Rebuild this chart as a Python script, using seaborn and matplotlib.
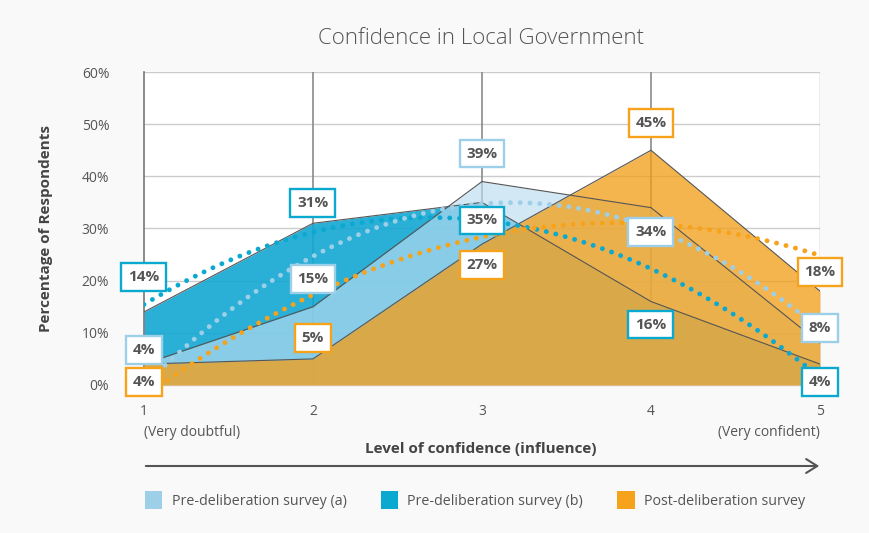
import matplotlib
matplotlib.use("Agg")
import matplotlib.pyplot as plt
from matplotlib.patches import Patch
from matplotlib.transforms import blended_transform_factory
import pandas as pd
import seaborn as sns

# values
levels = [1, 2, 3, 4, 5]
pre_a = [4, 15, 39, 34, 8]
pre_b = [14, 31, 35, 16, 4]
post = [4, 5, 27, 45, 18]
series_names = ["Pre-deliberation survey (a)", "Pre-deliberation survey (b)", "Post-deliberation survey"]
yticks = [0, 10, 20, 30, 40, 50, 60]

# label box offsets in pixels (up is positive)
off_a = [14, 28, 28, -24, 15]
off_b = [35, 20, -18, -23, -18]
off_post = [-18, 21, -21, 27, 19]

c_a = "#9dcfe8"
c_b = "#0ba8d0"
c_post = "#f7a21b"

sns.set_theme(style="white")
plt.rcParams["font.family"] = ["Open Sans", "DejaVu Sans"]

df = pd.DataFrame({"level": levels, "a": pre_a, "b": pre_b, "post": post})

fig = plt.figure(figsize=(8.7, 5.33), dpi=100, facecolor="#f9f9f9")
ax = fig.add_axes([0.1655, 0.2777, 0.777, 0.5872])
ax.set_facecolor("white")

# grid
for y in yticks:
    ax.axhline(y, color="#cccccc", lw=1, zorder=0)
for x in levels[1:-1]:
    ax.axvline(x, color="#8a8a8a", lw=1.2, zorder=0)

# filled areas, back to front
ax.fill_between(df["level"], df["b"], color="#13a7d3", alpha=0.9, lw=0, zorder=1)
ax.fill_between(df["level"], df["a"], color="#bbddf1", alpha=0.65, lw=0, zorder=2)
ax.fill_between(df["level"], df["post"], color="#f29f19", alpha=0.77, lw=0, zorder=3)
for col in ["b", "a", "post"]:
    sns.lineplot(data=df, x="level", y=col, color="#555555", lw=0.8, ax=ax, zorder=4)

# quadratic trend lines, dotted
for col, c in [("b", c_b), ("a", c_a), ("post", c_post)]:
    sns.regplot(data=df, x="level", y=col, order=2, ci=None, scatter=False, ax=ax,
                line_kws=dict(color=c, lw=3.5, linestyle=(0, (0.01, 2.0)),
                              dash_capstyle="round", zorder=5))

# value labels
for vals, offs, c in [(pre_b, off_b, c_b), (pre_a, off_a, c_a), (post, off_post, c_post)]:
    for x, v, dy in zip(levels, vals, offs):
        ax.annotate(f"{v}%", (x, v), xytext=(0, dy), textcoords="offset pixels",
                    ha="center", va="center", fontsize=11, fontweight="bold", color="#555555",
                    bbox=dict(boxstyle="square,pad=0.45", fc="white", ec=c, lw=1.7), zorder=10)

ax.set_xlim(1, 5)
ax.set_ylim(0, 60)
ax.set_yticks(yticks)
ax.set_yticklabels([f"{y}%" for y in yticks], fontsize=10, color="#555555")
ax.set_xticks(levels)
ax.set_xticklabels([str(x) for x in levels], fontsize=10, color="#555555")
ax.tick_params(axis="x", length=0, pad=14)
ax.tick_params(axis="y", length=0, pad=25)
for s in ["top", "right"]:
    ax.spines[s].set_visible(False)
ax.spines["left"].set_color("#777777")
ax.spines["left"].set_linewidth(1.2)
ax.spines["bottom"].set_color("#cccccc")
ax.spines["bottom"].set_linewidth(1)
ax.axvline(5, color="#aaaaaa", lw=1, zorder=0)

trans = blended_transform_factory(ax.transData, fig.transFigure)
ax.text(1, 1 - 432 / 533, "(Very doubtful)", transform=trans, ha="left", va="center",
        fontsize=10, color="#555555")
ax.text(5, 1 - 432 / 533, "(Very confident)", transform=trans, ha="right", va="center",
        fontsize=10, color="#555555")

ax.set_xlabel("")
ax.set_ylabel("")
fig.text(0.5527, 1 - 449 / 533, "Level of confidence (influence)", ha="center", va="center",
         fontsize=11, fontweight="bold", color="#444444")
fig.text(46 / 870, 1 - 229 / 533, "Percentage of Respondents", ha="center", va="center",
         rotation=90, fontsize=11, fontweight="bold", color="#444444")
fig.text(0.5527, 1 - 39 / 533, "Confidence in Local Government", ha="center", va="center",
         fontsize=16, fontweight="light", color="#555555")

fig.add_artist(matplotlib.patches.FancyArrowPatch(
    (143 / 870, 1 - 466 / 533), (822 / 870, 1 - 466 / 533), transform=fig.transFigure,
    arrowstyle="->,head_length=8,head_width=5", color="#555555", lw=1.5, mutation_scale=1))

handles = [Patch(facecolor=c, edgecolor="none") for c in [c_a, c_b, c_post]]
fig.legend(handles, series_names, loc="center", bbox_to_anchor=(0.546, 1 - 500 / 533), ncol=3,
           frameon=False, fontsize=10.3, handlelength=1.2, handleheight=1.6, handletextpad=0.65,
           columnspacing=2.4, labelcolor="#555555")

fig.savefig("out.png", dpi=100, facecolor=fig.get_facecolor())
